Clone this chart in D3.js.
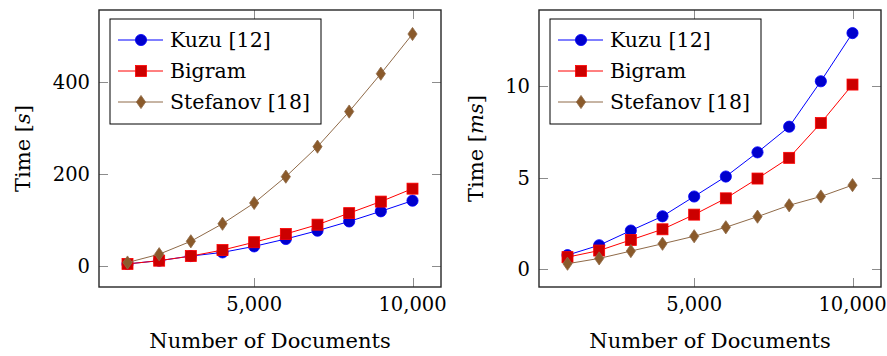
<!DOCTYPE html>
<html>
<head>
<meta charset="utf-8">
<script src="https://cdn.jsdelivr.net/npm/d3@7"></script>
<style>
  body { margin: 0; background: #fff; }
  svg { display: block; }
</style>
</head>
<body>
<svg id="chart" width="887" height="356"></svg>
<script>
// ---- data ----
const docs = [1000, 2000, 3000, 4000, 5000, 6000, 7000, 8000, 9000, 10000];
const seriesNames = ["Kuzu [12]", "Bigram", "Stefanov [18]"];

const kuzuSec     = [5, 12, 22, 30, 43, 59, 77, 97, 119, 142];
const bigramSec   = [5, 12, 22, 35, 52, 70, 90, 115, 140, 168];
const stefanovSec = [8, 26, 54, 92, 137, 194, 259, 335, 417, 503];

const kuzuMs     = [0.78, 1.32, 2.12, 2.9, 3.98, 5.07, 6.39, 7.79, 10.27, 12.9];
const bigramMs   = [0.67, 1.03, 1.61, 2.19, 2.99, 3.88, 4.96, 6.09, 7.99, 10.09];
const stefanovMs = [0.31, 0.6, 1.0, 1.4, 1.81, 2.3, 2.88, 3.5, 3.98, 4.6];

const xTicks = [5000, 10000];
const yTicksLeft = [0, 200, 400];
const yTicksRight = [0, 5, 10];
const xTitle = "Number of Documents";

// ---- styles ----
const FONT = "'DejaVu Serif', serif";
const FS_TICK = 19.5, FS_LEG = 20.5, FS_TITLE = 21;
const styles = [
  {line: "#0000ff", fill: "#0000cc", mark: "circle"},
  {line: "#ff0000", fill: "#cc0000", mark: "square"},
  {line: "#8f6a48", fill: "#8a5a2b", mark: "diamond"}
];

const svg = d3.select("#chart");

function drawMarker(g, type, x, y, st) {
  if (type === "circle") {
    g.append("circle").attr("cx", x).attr("cy", y).attr("r", 5.6)
      .attr("fill", st.fill).attr("stroke", st.line).attr("stroke-width", 0.8);
  } else if (type === "square") {
    g.append("rect").attr("x", x - 5.5).attr("y", y - 5.5).attr("width", 11).attr("height", 11)
      .attr("fill", st.fill).attr("stroke", st.line).attr("stroke-width", 0.8);
  } else {
    g.append("path").attr("d", `M${x},${y-6.6}L${x+4.6},${y}L${x},${y+6.6}L${x-4.6},${y}Z`)
      .attr("fill", st.fill).attr("stroke", st.line).attr("stroke-width", 0.8);
  }
}

function txt(g, fs) {
  return g.append("text").attr("font-family", FONT).attr("font-size", fs).attr("fill", "#000");
}

function panel(opts) {
  const {left, right, top, bottom, yDomain, yTicks, series, yTitleParts, yTitleX} = opts;
  const g = svg.append("g");
  const x = d3.scaleLinear().domain([100, 10900]).range([left, right]);
  const y = d3.scaleLinear().domain(yDomain).range([bottom, top]);
  const tickLen = 9;
  const tickColor = "#8c8c8c";

  // ticks (inside, on all four sides)
  const tg = g.append("g").attr("stroke", tickColor).attr("stroke-width", 1);
  xTicks.forEach(t => {
    const px = Math.round(x(t)) + 0.5;
    tg.append("line").attr("x1", px).attr("x2", px).attr("y1", bottom).attr("y2", bottom - tickLen);
    tg.append("line").attr("x1", px).attr("x2", px).attr("y1", top).attr("y2", top + tickLen);
  });
  yTicks.forEach(t => {
    const py = Math.round(y(t)) + 0.5;
    tg.append("line").attr("x1", left).attr("x2", left + tickLen).attr("y1", py).attr("y2", py);
    tg.append("line").attr("x1", right).attr("x2", right - tickLen).attr("y1", py).attr("y2", py);
  });

  // series
  series.forEach((vals, i) => {
    const st = styles[i];
    const line = d3.line().x((d, j) => x(docs[j])).y(d => y(d));
    g.append("path").datum(vals).attr("d", line)
      .attr("fill", "none").attr("stroke", st.line).attr("stroke-width", 1);
    const mg = g.append("g");
    vals.forEach((v, j) => drawMarker(mg, st.mark, x(docs[j]), y(v), st));
  });

  // frame
  g.append("rect").attr("x", left).attr("y", top).attr("width", right - left).attr("height", bottom - top)
    .attr("fill", "none").attr("stroke", "#262626").attr("stroke-width", 1.4);

  // tick labels
  xTicks.forEach(t => {
    txt(g, FS_TICK).attr("x", x(t)).attr("y", 311).attr("text-anchor", "middle").text(d3.format(",")(t));
  });
  yTicks.forEach(t => {
    txt(g, FS_TICK).attr("x", left - 9).attr("y", y(t)).attr("dy", "0.36em")
      .attr("text-anchor", "end").text(t);
  });

  // axis titles
  txt(g, FS_TITLE).attr("x", (left + right) / 2).attr("y", 348).attr("text-anchor", "middle").text(xTitle);
  const yt = txt(g, FS_TITLE)
    .attr("transform", `translate(${yTitleX},${(top + bottom) / 2}) rotate(-90)`)
    .attr("text-anchor", "middle");
  yt.append("tspan").text(yTitleParts[0]);
  yt.append("tspan").attr("font-style", "italic").text(yTitleParts[1]);
  yt.append("tspan").text(yTitleParts[2]);

  // legend
  const lx = left + 11, ly = 19, lw = 211, lh = 105;
  const lg = g.append("g");
  lg.append("rect").attr("x", lx).attr("y", ly).attr("width", lw).attr("height", lh)
    .attr("fill", "#fff").attr("stroke", "#000").attr("stroke-width", 1);
  seriesNames.forEach((name, i) => {
    const st = styles[i];
    const cy = ly + 21 + i * 31;
    lg.append("line").attr("x1", lx + 8).attr("x2", lx + 53).attr("y1", cy).attr("y2", cy)
      .attr("stroke", st.line).attr("stroke-width", 1);
    drawMarker(lg, st.mark, lx + 31, cy, st);
    txt(lg, FS_LEG).attr("x", lx + 60).attr("y", cy).attr("dy", "0.36em").text(name);
  });
}

panel({
  left: 99, right: 441, top: 10, bottom: 287,
  yDomain: [-45, 555], yTicks: yTicksLeft,
  series: [kuzuSec, bigramSec, stefanovSec],
  yTitleParts: ["Time [", "s", "]"], yTitleX: 30
});
panel({
  left: 539, right: 881, top: 10, bottom: 287,
  yDomain: [-0.96, 14.16], yTicks: yTicksRight,
  series: [kuzuMs, bigramMs, stefanovMs],
  yTitleParts: ["Time [", "ms", "]"], yTitleX: 483
});
</script>
</body>
</html>
